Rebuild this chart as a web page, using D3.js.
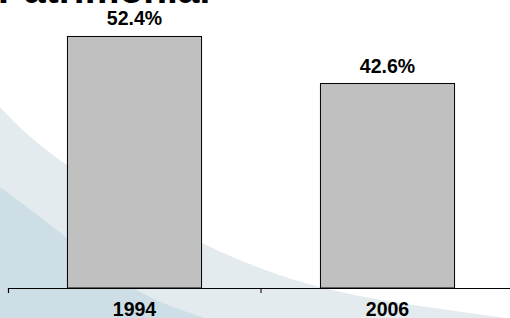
<!DOCTYPE html>
<html>
<head>
<meta charset="utf-8">
<script src="https://cdn.jsdelivr.net/npm/d3@7"></script>
<style>
  html, body { margin: 0; padding: 0; background: #fff; }
  svg { display: block; font-family: "Liberation Sans", Arial, sans-serif; }
</style>
</head>
<body>
<div class="container"></div>
<script>
// data
const title = 'Patrimonial';
const years = ['1994', '2006'];
const shares = [52.4, 42.6];

const W = 510, H = 318;

const svg = d3.select('.container')
  .append('svg')
  .attr('width', W)
  .attr('height', H);

// background swoosh (slide decoration)
const swoosh = d3.line().curve(d3.curveNatural);
const outer = [[0,107],[67,165],[202,243],[320,287],[420,306],[520,320]];
const inner = [[0,187],[67,238],[133,288],[210,320]];

svg.append('path')
  .attr('d', swoosh(outer) + 'L520,330L0,330Z')
  .attr('fill', '#e3ebef');
svg.append('path')
  .attr('d', swoosh(inner) + 'L0,330Z')
  .attr('fill', '#cedee6');

// scales
const x = d3.scaleBand()
  .domain(years)
  .range([8, 514])
  .paddingInner(0.47)
  .paddingOuter(0.235);

const y = d3.scaleLinear()
  .domain([0, 60])
  .range([288, 0]);

const data = years.map((yr, i) => ({year: yr, value: shares[i]}));

// bars
svg.selectAll('rect.bar')
  .data(data)
  .join('rect')
  .attr('class', 'bar')
  .attr('x', d => x(d.year))
  .attr('y', d => y(d.value))
  .attr('width', x.bandwidth())
  .attr('height', d => y(0) - y(d.value))
  .attr('fill', '#c0c0c0')
  .attr('stroke', '#000')
  .attr('stroke-width', 1);

// value labels
svg.selectAll('text.val')
  .data(data)
  .join('text')
  .attr('class', 'val')
  .attr('x', d => x(d.year) + x.bandwidth() / 2)
  .attr('y', d => y(d.value) - 11)
  .attr('text-anchor', 'middle')
  .attr('font-size', 19.5)
  .attr('font-weight', 'bold')
  .attr('fill', '#000')
  .text(d => d.value.toFixed(1) + '%');

// axis: ticks sit between categories
const gap = x.step() * x.paddingInner() / 2;
const axis = svg.append('g')
  .attr('transform', `translate(0,${y(0)})`)
  .call(d3.axisBottom(x).tickSize(0).tickSizeOuter(5).tickPadding(14));
axis.select('.domain').attr('stroke', '#000').attr('stroke-width', 1.2);
axis.selectAll('.tick text')
  .attr('font-size', 19.5)
  .attr('font-weight', 'bold')
  .attr('fill', '#000')
  .attr('font-family', '"Liberation Sans", Arial, sans-serif');
axis.selectAll('.tick.between')
  .data(years.slice(1))
  .join('line')
  .attr('class', 'between')
  .attr('x1', d => x(d) - gap)
  .attr('x2', d => x(d) - gap)
  .attr('y1', 0)
  .attr('y2', 5)
  .attr('stroke', '#000');

// title, mostly cut off at the top
svg.append('text')
  .attr('x', -2)
  .attr('y', 3)
  .attr('font-size', 39)
  .attr('font-weight', 'bold')
  .attr('fill', '#000')
  .text(title);
</script>
</body>
</html>
